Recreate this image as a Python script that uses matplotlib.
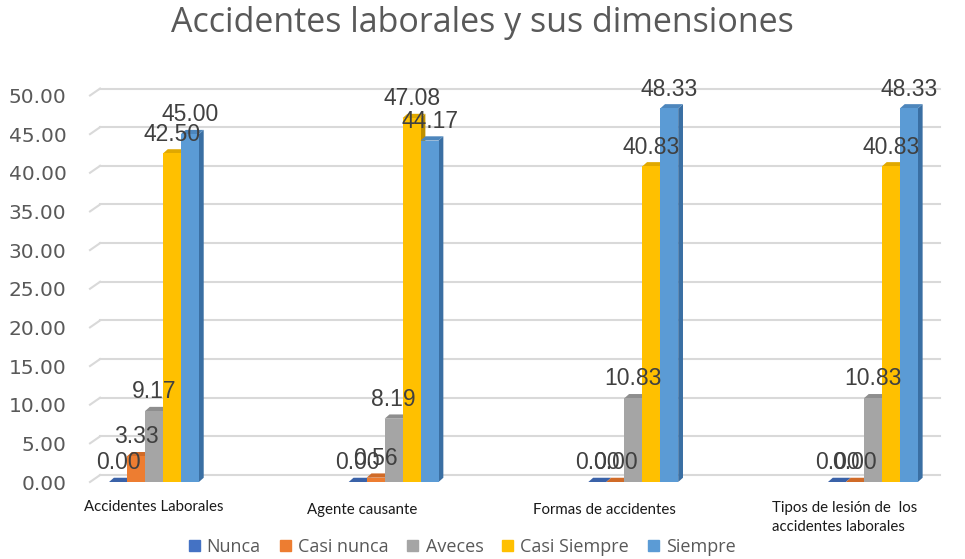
import matplotlib.pyplot as plt
from matplotlib.patches import Patch

# -------------------------------
# Data
# -------------------------------
categories = ["Accidentes Laborales", "Agente causante", "Formas de accidentes",
              "Tipos de lesión de  los\naccidentes laborales"]
series = ["Nunca", "Casi nunca", "Aveces", "Casi Siempre", "Siempre"]
nunca = [0.00, 0.00, 0.00, 0.00]
casi_nunca = [3.33, 0.56, 0.00, 0.00]
aveces = [9.17, 8.19, 10.83, 10.83]
casi_siempre = [42.50, 47.08, 40.83, 40.83]
siempre = [45.00, 44.17, 48.33, 48.33]
values = [nunca, casi_nunca, aveces, casi_siempre, siempre]

front = ["#4472C4", "#ED7D31", "#A5A5A5", "#FFC000", "#5B9BD5"]
side = ["#2F528F", "#AE5A21", "#7B7B7B", "#BF9000", "#3A6FA3"]
top = ["#3A62A8", "#D06B28", "#8E8E8E", "#E0A800", "#4D86BC"]

# -------------------------------
# Figure
# -------------------------------
fig = plt.figure(figsize=(9.65, 5.59), dpi=100)
ax = fig.add_axes([90 / 965, 1 - 482 / 559, 850 / 965, (482 - 95.5) / 559])
ax.set_xlim(-0.267, 3.28)
ax.set_ylim(0, 50)

yticks = [0, 5, 10, 15, 20, 25, 30, 35, 40, 45, 50]
wall_dx = 0.042   # back wall shift (x, data units)
wall_dy = 0.9     # back wall shift (y, data units)
x_left = -0.267

# slanted "3D" gridlines
for v in yticks:
    ax.plot([x_left, x_left + wall_dx], [v, v + wall_dy], color="#D9D9D9", lw=1.5,
            zorder=1, clip_on=False)
    ax.plot([x_left + wall_dx, 3.28], [v + wall_dy, v + wall_dy], color="#D9D9D9",
            lw=1.5, zorder=1, clip_on=False)

# bars with side and top faces
w = 0.075
dx = 0.02
dy = 0.55
for j, vals in enumerate(values):
    z = 3 + j * 0.1
    for i, h in enumerate(vals):
        x0 = i + (j - 2.5) * w
        x1 = x0 + w
        ax.fill([x1, x1 + dx, x1 + dx, x1], [0, dy, h + dy, h], color=side[j],
                zorder=z, clip_on=False, lw=0)
        ax.fill([x0, x1, x1 + dx, x0 + dx], [h, h, h + dy, h + dy], color=top[j],
                zorder=z, clip_on=False, lw=0)
        ax.bar(x0, h, width=w, align="edge", color=front[j], zorder=z, lw=0)
        ax.text(x0 + w / 2, h + 2.5, f"{h:.2f}", ha="center", va="center",
                fontsize=16.5, color="#404040", family="Liberation Sans", zorder=10)

# axis styling
for s in ax.spines.values():
    s.set_visible(False)
ax.set_yticks(yticks)
ax.set_yticklabels([f"{v:.2f}" for v in yticks], fontsize=14.5, color="#595959",
                   family="DejaVu Sans")
ax.tick_params(axis="y", length=0, pad=17)
ax.set_xticks([])

# category labels (shifted by the 3D perspective)
label_shift = [0.0, -0.13, -0.12, -0.12]
label_y = [-3.2, -3.6, -3.6, -4.6]
for i, cat in enumerate(categories):
    ax.text(i + label_shift[i], label_y[i], cat, ha="center", va="center",
            fontsize=10.8, family="Lato", color="#1a1a1a", multialignment="left",
            linespacing=1.45)

fig.text(0.5, 1 - 23 / 559, "Accidentes laborales y sus dimensiones", ha="center",
         va="center", fontsize=24.5, color="#595959", family="Open Sans")

handles = [Patch(color=c, label=s) for c, s in zip(front, series)]
fig.legend(handles=handles, loc="center", bbox_to_anchor=(0.479, 1 - 547 / 559),
           ncol=5, frameon=False, prop={"family": "Open Sans", "size": 13},
           handlelength=0.6, handleheight=0.6, handletextpad=0.4, columnspacing=1.05,
           labelcolor="#595959")

plt.savefig("out.png", dpi=100)
